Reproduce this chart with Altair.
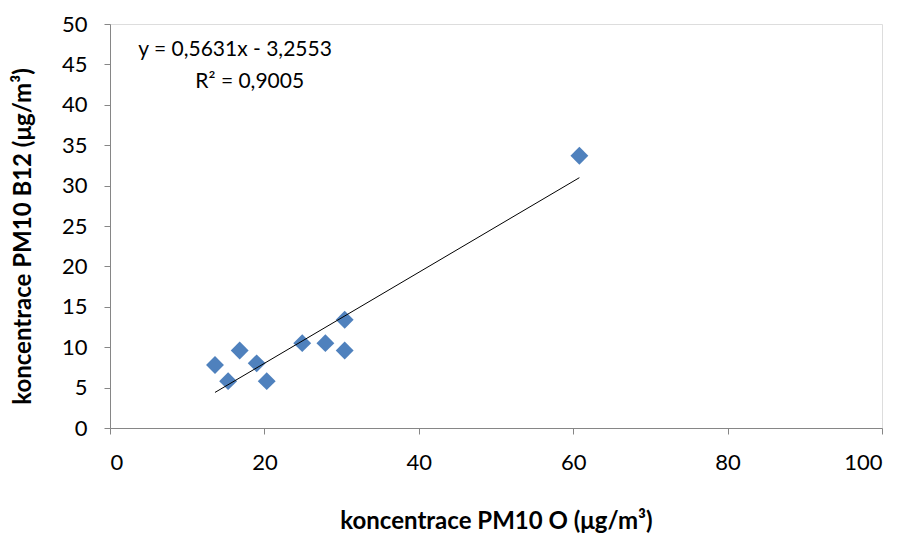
import altair as alt
import pandas as pd

# data
pm10_o = [13.6, 15.3, 16.8, 19.0, 20.3, 24.9, 27.9, 30.4, 30.4, 60.8]
pm10_b12 = [7.8, 5.8, 9.6, 8.0, 5.8, 10.5, 10.5, 13.4, 9.6, 33.7]

slope = 0.5631
intercept = -3.2553
eq_lines = ["y = 0,5631x - 3,2553", "R\u00b2 = 0,9005"]
eq_x = [16.2, 18.1]
eq_y = [46.8, 42.8]

FONT = "Lato"

pts = pd.DataFrame({"x": pm10_o, "y": pm10_b12})
xmin, xmax = min(pm10_o), max(pm10_o)
trend = pd.DataFrame({"x": [xmin, xmax], "y": [slope * xmin + intercept, slope * xmax + intercept]})
eq = pd.DataFrame({"x": eq_x, "y": eq_y, "t": eq_lines})

xs = alt.Scale(domain=[0, 100], nice=False, zero=False)
ys = alt.Scale(domain=[0, 50], nice=False, zero=False)

x_axis = alt.Axis(
    title="koncentrace PM10 O (\u03bcg/m\u00b3)",
    values=[0, 20, 40, 60, 80, 100],
    grid=False, domainColor="#868686", tickColor="#868686", tickSize=6,
    labelFont=FONT, labelFontSize=22, labelColor="#000000", labelPadding=18,
    titleFont=FONT, titleFontSize=24, titleFontWeight="bold", titleColor="#000000",
    titleY=100, titleBaseline="alphabetic",
)
y_axis = alt.Axis(
    title="koncentrace PM10 B12 (\u03bcg/m\u00b3)",
    values=list(range(0, 51, 5)),
    grid=False, domainColor="#868686", tickColor="#868686", tickSize=6,
    labelFont=FONT, labelFontSize=22, labelColor="#000000", labelPadding=17,
    titleFont=FONT, titleFontSize=24, titleFontWeight="bold", titleColor="#000000",
    titleX=-80, titleY=212, titleBaseline="alphabetic", titleAlign="center",
)

points = alt.Chart(pts).mark_point(
    shape="diamond", filled=True, size=320, color="#4F81BD", opacity=1
).encode(x=alt.X("x:Q", scale=xs, axis=x_axis), y=alt.Y("y:Q", scale=ys, axis=y_axis))

line = alt.Chart(trend).mark_line(color="#000000", strokeWidth=1).encode(
    x=alt.X("x:Q", scale=xs), y=alt.Y("y:Q", scale=ys)
)

text = alt.Chart(eq).mark_text(font=FONT, fontSize=21, color="#000000", align="center", baseline="middle").encode(
    x=alt.X("x:Q", scale=xs), y=alt.Y("y:Q", scale=ys), text="t:N"
)

chart = alt.layer(points, line, text).properties(
    width=772, height=404,
    autosize=alt.AutoSizeParams(type="none"),
    padding={"left": 102, "top": 16, "right": 15, "bottom": 105},
).configure_view(stroke=None).configure(background="#ffffff")

chart.save("out.html", embed_options={"renderer": "svg", "actions": False})
